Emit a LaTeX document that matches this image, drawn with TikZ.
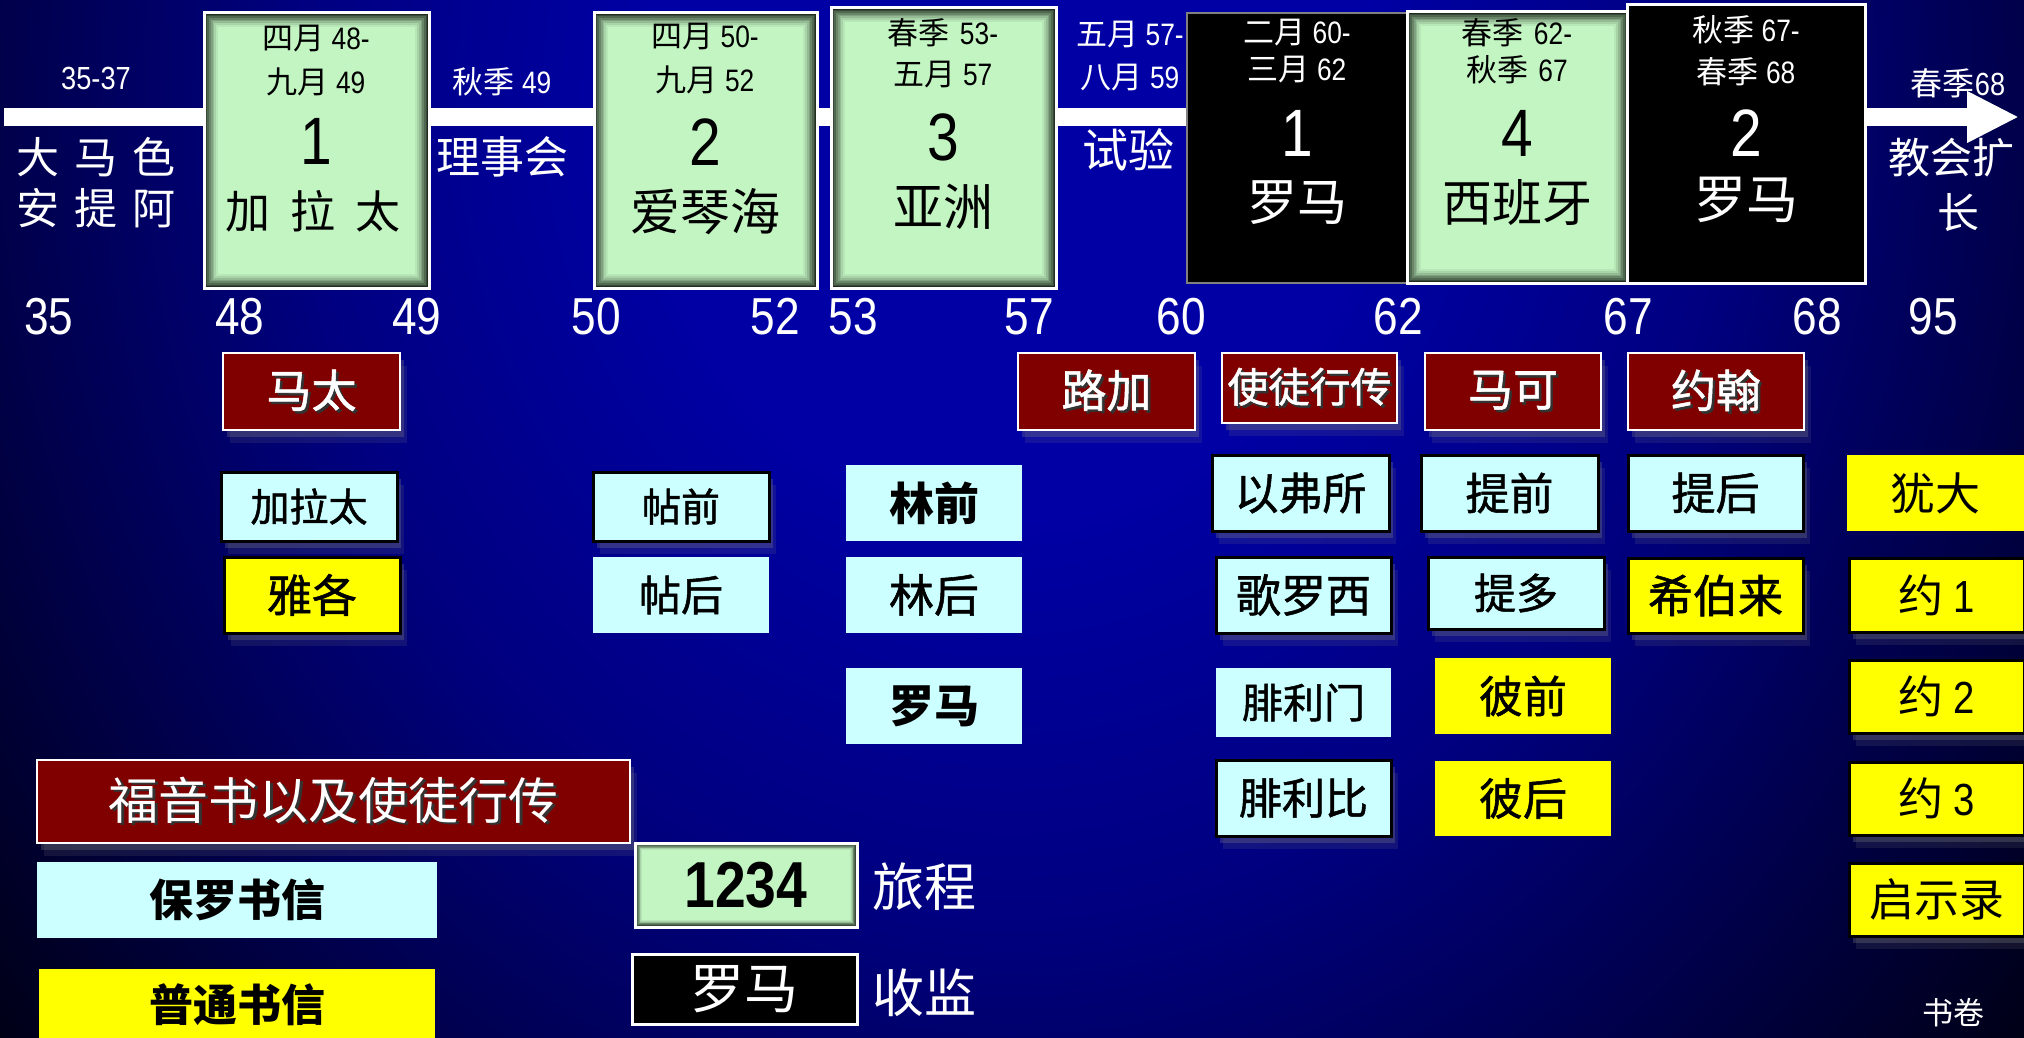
\documentclass[tikz,border=0pt]{standalone}
\usepackage{fontspec}
\setmainfont{Liberation Sans}[FakeStretch=0.85]
\newfontfamily\cjk{Noto Sans CJK SC}
\newfontfamily\cjkm{Noto Sans CJK SC}[FakeBold=1.2]
\usetikzlibrary{calc,shadows,arrows.meta}

\definecolor{tripgreen}{RGB}{204,255,204}
\definecolor{bevdark}{RGB}{32,44,32}
\definecolor{bookred}{RGB}{128,0,0}
\definecolor{paulcyan}{RGB}{204,255,255}
\definecolor{genyellow}{RGB}{255,255,0}
\definecolor{bgblue}{RGB}{0,0,165}
\definecolor{bgmid}{RGB}{0,0,128}

\pgfdeclareradialshading{bgshade}{\pgfpoint{0bp}{0bp}}{color(0bp)=(bgblue); color(8.5bp)=(bgblue); color(17bp)=(bgmid); color(34bp)=(black); color(50bp)=(black)}

\newcommand\fsz[1]{\fontsize{#1}{#1}\selectfont}
\newcommand\shd[1]{\rlap{\kern2.5pt\raisebox{-2.5pt}{\textcolor{black!80}{#1}}}#1}
\newcommand\mkbox[7]{%
 \pgfmathsetmacro\mbw{#5-#3}%
 \pgfmathsetmacro\mbh{#6-#4}%
 \pgfmathsetmacro\mbx{(#3+#5)/2}%
 \pgfmathsetmacro\mby{(#4+#6)/2}%
 \node[#1, minimum width=\mbw pt, minimum height=\mbh pt] (#2) at (\mbx,\mby) {#7};}

\tikzset{
  tripbox/.style={draw=white, line width=3pt, fill=tripgreen, inner sep=0pt, text=black,
    path picture={\foreach \i/\p in {0/0,1/14,2/28,3/42,4/56,5/68,6/79,7/88,8/95}{
      \fill[tripgreen!\p!bevdark] ($(path picture bounding box.north west)+(\i*#1,-\i*#1)$) rectangle ($(path picture bounding box.south east)+(-\i*#1,\i*#1)$);}}},
  tripbox/.default=1.7pt,
  jailg/.style={draw=gray, line width=2pt, fill=black, inner sep=0pt, text=white},
  jailw/.style={draw=white, line width=3pt, fill=black, inner sep=0pt, text=white},
  boxshadow/.style={general shadow={fill=gray, opacity=0.3, shadow xshift=4pt, shadow yshift=-7pt},
                    general shadow={fill=gray, opacity=0.15, shadow xshift=7pt, shadow yshift=-13pt}},
  gospel/.style={draw=white, line width=2.5pt, fill=bookred, inner sep=0pt, text=white, boxshadow},
  paul/.style={fill=paulcyan, inner sep=0pt, text=black},
  paulb/.style={paul, draw=black, line width=3pt, boxshadow},
  gen/.style={fill=genyellow, inner sep=0pt, text=black},
  genb/.style={gen, draw=black, line width=3pt, boxshadow},
  wlab/.style={text=white, inner sep=0pt},
  blab/.style={text=black, inner sep=0pt},
}

\begin{document}
\begin{tikzpicture}[x=1pt,y=-1pt]
\useasboundingbox (0,0) rectangle (2024,1038);
\begin{scope}
\clip (0,0) rectangle (2024,1038);
\shade[shading=bgshade] (-40,-1100) rectangle (2060,1300);
\end{scope}

% timeline
\coordinate (tl0) at (4,117);
\coordinate (tl1) at (2019,117);
\draw[white, line width=18pt, -{Triangle[length=52pt, width=48pt]}] (tl0) -- (tl1);

% journey / imprisonment boxes
\mkbox{tripbox}{trip1}{204}{13}{429}{288}{}
\mkbox{tripbox}{trip2}{594}{13}{817}{288}{}
\mkbox{tripbox}{trip3}{831}{8}{1056}{288}{}
\mkbox{jailg}{rome1}{1187}{13}{1407}{283}{}
\mkbox{tripbox}{trip4}{1407}{12}{1628}{283}{}
\mkbox{jailw}{rome2}{1627}{5}{1865}{283}{}

% box texts
\node[blab] (t1a) at (316,39) {\fsz{31}{\cjk 四月} 48-};
\node[blab] (t1b) at (316,82) {\fsz{31}{\cjk 九月} 49};
\node[blab] (t1c) at (316,141) {\fsz{67}1};
\node[blab] (t1d) at (313,211) {\fsz{45}\cjk 加\hspace{20pt}拉\hspace{20pt}太};

\node[blab] (t2a) at (705,37) {\fsz{31}{\cjk 四月} 50-};
\node[blab] (t2b) at (705,80) {\fsz{31}{\cjk 九月} 52};
\node[blab] (t2c) at (705,142) {\fsz{67}2};
\node[blab] (t2d) at (705,212) {\fsz{50}\cjk 爱琴海};

\node[blab] (t3a) at (943,33) {\fsz{31}{\cjk 春季}\hspace{10pt}53-};
\node[blab] (t3b) at (943,75) {\fsz{31}{\cjk 五月} 57};
\node[blab] (t3c) at (943,137) {\fsz{67}3};
\node[blab] (t3d) at (943,207) {\fsz{50}\cjk 亚洲};

\node[wlab] (r1a) at (1297,33) {\fsz{31}{\cjk 二月} 60-};
\node[wlab] (r1b) at (1297,70) {\fsz{31}{\cjk 三月} 62};
\node[wlab] (r1c) at (1297,133) {\fsz{67}1};
\node[wlab] (r1d) at (1297,203) {\fsz{50}\cjk 罗马};

\node[blab] (t4a) at (1517,33) {\fsz{31}{\cjk 春季}\hspace{10pt}62-};
\node[blab] (t4b) at (1517,70) {\fsz{31}{\cjk 秋季}\hspace{10pt}67};
\node[blab] (t4c) at (1517,133) {\fsz{67}4};
\node[blab] (t4d) at (1517,203) {\fsz{50}\cjk 西班牙};

\node[wlab] (r2a) at (1746,30) {\fsz{31}{\cjk 秋季} 67-};
\node[wlab] (r2b) at (1746,72) {\fsz{31}{\cjk 春季} 68};
\node[wlab] (r2c) at (1746,133) {\fsz{67}2};
\node[wlab] (r2d) at (1746,200) {\fsz{52}\cjk 罗马};

% timeline labels
\node[wlab] (l1a) at (96,78) {\fsz{32}35-37};
\node[wlab] (l1b) at (96,157) {\fsz{43}\cjk 大\hspace{15pt}马\hspace{15pt}色};
\node[wlab] (l1c) at (96,208) {\fsz{43}\cjk 安\hspace{15pt}提\hspace{15pt}阿};
\node[wlab] (l2a) at (502,82) {\fsz{31}{\cjk 秋季} 49};
\node[wlab] (l2b) at (502,157) {\fsz{44}\cjk 理事会};
\node[wlab] (l3a) at (1130,35) {\fsz{31}{\cjk 五月} 57-};
\node[wlab] (l3b) at (1130,78) {\fsz{31}{\cjk 八月} 59};
\node[wlab] (l3c) at (1128,150) {\fsz{46}\cjk 试验};
\node[wlab] (l4a) at (1958,83) {\fsz{32}{\cjk 春季}68};
\node[wlab] (l4b) at (1951,158) {\fsz{42}\cjk 教会扩};
\node[wlab] (l4c) at (1958,213) {\fsz{42}\cjk 长};

% year numbers
\foreach \yx/\yr in {49/35,240/48,417/49,596/50,775/52,853/53,1029/57,1181/60,1398/62,1628/67,1817/68,1933/95}{
  \node[wlab] (yr\yr) at (\yx,317) {\fsz{52}\yr};
}

% gospels
\mkbox{gospel}{mt}{223}{353}{400}{430}{\fsz{45}\cjkm\shd{马太}}
\mkbox{gospel}{lk}{1018}{353}{1195}{430}{\fsz{45}\cjkm\shd{路加}}
\mkbox{gospel}{ac}{1222}{353}{1397}{423}{\fsz{41}\cjkm\shd{使徒行传}}
\mkbox{gospel}{mk}{1425}{353}{1601}{430}{\fsz{45}\cjkm\shd{马可}}
\mkbox{gospel}{jn}{1628}{353}{1804}{430}{\fsz{45}\cjkm\shd{约翰}}

% Paul's letters
\mkbox{paulb}{gal}{221}{472}{397}{541}{\fsz{39}\cjkm 加拉太}
\mkbox{paulb}{th1}{593}{472}{769}{541}{\fsz{39}\cjkm 帖前}
\mkbox{paul}{th2}{593}{557}{769}{633}{\fsz{42}\cjkm 帖后}
\mkbox{paul}{co1}{846}{465}{1022}{541}{\fsz{45}\cjk\bfseries 林前}
\mkbox{paul}{co2}{846}{557}{1022}{633}{\fsz{45}\cjkm 林后}
\mkbox{paul}{rom}{846}{668}{1022}{744}{\fsz{45}\cjk\bfseries 罗马}
\mkbox{paulb}{eph}{1212}{455}{1389}{531}{\fsz{44}\cjkm 以弗所}
\mkbox{paulb}{col}{1216}{557}{1391}{633}{\fsz{45}\cjkm 歌罗西}
\mkbox{paul}{phm}{1216}{668}{1391}{737}{\fsz{41}\cjkm 腓利门}
\mkbox{paulb}{php}{1216}{760}{1391}{836}{\fsz{43}\cjkm 腓利比}
\mkbox{paulb}{ti1}{1421}{455}{1598}{531}{\fsz{44}\cjkm 提前}
\mkbox{paulb}{tit}{1428}{557}{1604}{629}{\fsz{42}\cjkm 提多}
\mkbox{paulb}{ti2}{1628}{455}{1803}{531}{\fsz{44}\cjkm 提后}

% general letters
\mkbox{genb}{jas}{224}{557}{400}{633}{\fsz{45}\cjkm 雅各}
\mkbox{gen}{pe1}{1435}{658}{1611}{734}{\fsz{44}\cjkm 彼前}
\mkbox{gen}{pe2}{1435}{761}{1611}{836}{\fsz{44}\cjkm 彼后}
\mkbox{genb}{heb}{1628}{558}{1803}{633}{\fsz{45}\cjkm 希伯来}
\mkbox{gen}{jud}{1847}{455}{2024}{531}{\fsz{45}\cjk 犹大}
\mkbox{genb}{jo1}{1849}{558}{2024}{632}{\fsz{45}{\cjk 约} 1}
\mkbox{genb}{jo2}{1849}{660}{2024}{733}{\fsz{45}{\cjk 约} 2}
\mkbox{genb}{jo3}{1849}{762}{2024}{835}{\fsz{45}{\cjk 约} 3}
\mkbox{genb}{rev}{1849}{863}{2024}{936}{\fsz{45}\cjk 启示录}

% legend
\mkbox{gospel}{lgsp}{37}{760}{630}{843}{\fsz{50}\cjk\shd{福音书以及使徒行传}}
\mkbox{paul}{lpaul}{37}{862}{437}{938}{\fsz{44}\cjk\bfseries 保罗书信}
\mkbox{gen}{lgen}{39}{969}{435}{1040}{\fsz{44}\cjk\bfseries 普通书信}
\mkbox{tripbox=0.9pt}{ltrip}{635}{843}{857}{927}{\fsz{65}\bfseries 1234}
\node[wlab] (ltript) at (924,887) {\fsz{52}\cjk 旅程};
\mkbox{jailw}{ljail}{632}{954}{857}{1024}{\fsz{54}\cjk 罗马}
\node[wlab] (ljailt) at (924,993) {\fsz{52}\cjk 收监};
\node[wlab] (books) at (1953,1013) {\fsz{31}\cjk 书卷};
\end{tikzpicture}
\end{document}
